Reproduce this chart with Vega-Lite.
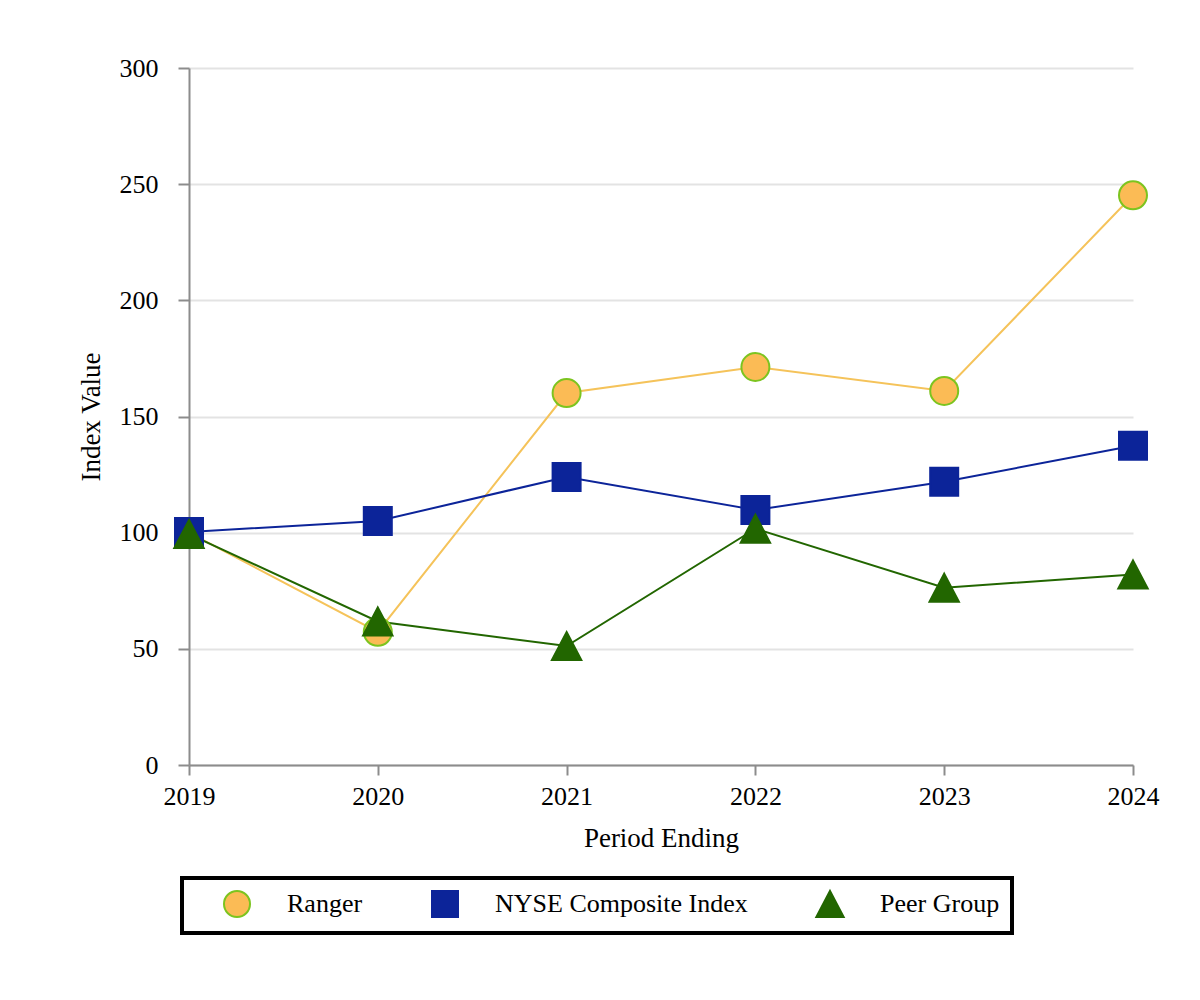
{
  "$schema": "https://vega.github.io/schema/vega-lite/v6.json",
  "autosize": {"type": "none"},
  "padding": {"left": 189, "top": 68, "right": 67, "bottom": 235},
  "width": 944,
  "height": 697,
  "background": "white",
  "config": {
    "font": "Liberation Serif",
    "view": {"stroke": null},
    "axis": {
      "labelFont": "Liberation Serif",
      "titleFont": "Liberation Serif",
      "labelFontSize": 26,
      "titleFontSize": 27,
      "labelColor": "black",
      "titleColor": "black",
      "titleFontWeight": "normal",
      "domainColor": "#8c8c8c",
      "domainWidth": 2,
      "tickColor": "#8c8c8c",
      "tickWidth": 2,
      "tickSize": 11,
      "gridColor": "#e3e3e3",
      "gridWidth": 2
    },
    "legend": {
      "orient": "none",
      "legendX": -7,
      "legendY": 810,
      "direction": "horizontal",
      "strokeColor": "black",
      "strokeWidth": 4,
      "fillColor": "white",
      "padding": 12,
      "labelFont": "Liberation Serif",
      "labelFontSize": 26,
      "labelColor": "black",
      "labelLimit": 500,
      "labelOffset": 36,
      "symbolSize": 676,
      "symbolStrokeWidth": 2,
      "symbolOffset": 29,
      "columnPadding": 39
    }
  },
  "data": {
    "values": [
      {"year": "2019", "series": "Ranger", "value": 100},
      {"year": "2020", "series": "Ranger", "value": 57.3},
      {"year": "2021", "series": "Ranger", "value": 160.1},
      {"year": "2022", "series": "Ranger", "value": 171.3},
      {"year": "2023", "series": "Ranger", "value": 161},
      {"year": "2024", "series": "Ranger", "value": 245.2},
      {"year": "2019", "series": "NYSE Composite Index", "value": 100.3},
      {"year": "2020", "series": "NYSE Composite Index", "value": 105},
      {"year": "2021", "series": "NYSE Composite Index", "value": 124},
      {"year": "2022", "series": "NYSE Composite Index", "value": 109.8},
      {"year": "2023", "series": "NYSE Composite Index", "value": 121.9},
      {"year": "2024", "series": "NYSE Composite Index", "value": 137.4},
      {"year": "2019", "series": "Peer Group", "value": 99.4},
      {"year": "2020", "series": "Peer Group", "value": 61.8},
      {"year": "2021", "series": "Peer Group", "value": 51.2},
      {"year": "2022", "series": "Peer Group", "value": 101.7},
      {"year": "2023", "series": "Peer Group", "value": 76.3},
      {"year": "2024", "series": "Peer Group", "value": 82.0}
    ]
  },
  "encoding": {
    "x": {
      "field": "year",
      "type": "ordinal",
      "scale": {"type": "point", "padding": 0},
      "axis": {
        "title": "Period Ending",
        "labelAngle": 0,
        "labelPadding": 8,
        "titlePadding": 16,
        "tickSize": 10
      }
    },
    "y": {
      "field": "value",
      "type": "quantitative",
      "scale": {"domain": [0, 300], "nice": false},
      "axis": {
        "title": "Index Value",
        "values": [0, 50, 100, 150, 200, 250, 300],
        "labelPadding": 20,
        "titlePadding": 14,
        "grid": true
      }
    }
  },
  "layer": [
    {
      "mark": {"type": "line", "strokeWidth": 2},
      "encoding": {
        "color": {
          "field": "series",
          "type": "nominal",
          "scale": {
            "range": ["#0c2499", "#226600", "#f5c35a"]
          },
          "legend": null
        }
      }
    },
    {
      "mark": {"type": "point", "filled": true, "size": 784, "strokeWidth": 2, "opacity": 1},
      "encoding": {
        "fill": {
          "field": "series",
          "type": "nominal",
          "title": null,
          "scale": {
            "domain": ["Ranger", "NYSE Composite Index", "Peer Group"],
            "range": ["#fbbb55", "#0c2499", "#226600"]
          }
        },
        "stroke": {
          "field": "series",
          "type": "nominal",
          "title": null,
          "scale": {
            "domain": ["Ranger", "NYSE Composite Index", "Peer Group"],
            "range": ["#7cc41f", "#0c2499", "#226600"]
          }
        },
        "shape": {
          "field": "series",
          "type": "nominal",
          "title": null,
          "scale": {
            "domain": ["Ranger", "NYSE Composite Index", "Peer Group"],
            "range": ["circle", "square", "M0,-1L1.05,1L-1.05,1Z"]
          }
        }
      }
    }
  ]
}
